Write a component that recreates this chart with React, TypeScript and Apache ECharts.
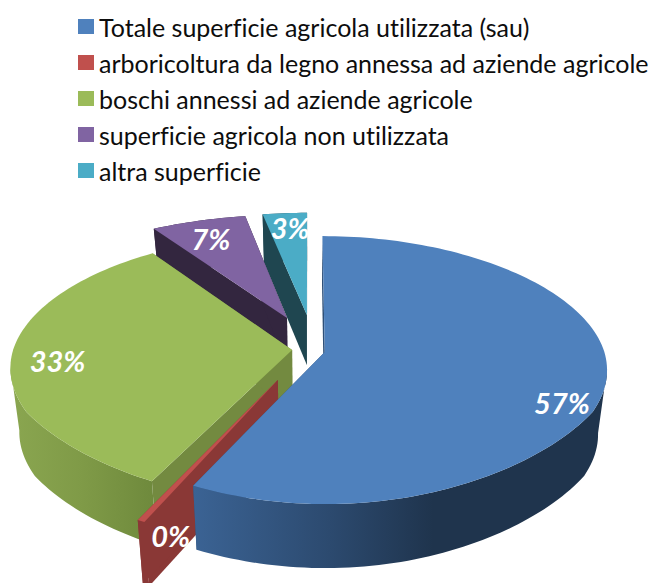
import React, { useEffect, useRef } from "react";
import * as echarts from "echarts";

const categories = [
  "Totale superficie agricola utilizzata (sau)",
  "arboricoltura da legno annessa ad aziende agricole",
  "boschi annessi ad aziende agricole",
  "superficie agricola non utilizzata",
  "altra superficie",
];
const shares = [57.4, 0.4, 32.5, 6.6, 3.1];
const percentLabels = ["57%", "0%", "33%", "7%", "3%"];

const topColors = ["#4f81bd", "#c0504d", "#9bbb59", "#8064a2", "#4bacc6"];
const wallStops: [number, string][][] = [
  [[0, "#3b6394"], [0.33, "#2c4a6f"], [0.58, "#1f344d"], [1, "#1f344d"]],
  [[0, "#8a3836"], [1, "#8a3836"]],
  [[0, "#8aa650"], [0.5, "#7f9a47"], [1, "#6e893c"]],
  [[0, "#33263f"], [1, "#33263f"]],
  [[0, "#1f4650"], [1, "#1f4650"]],
];
const radialWallColors = ["#2f5078", "#8a3836", "#738a40", "#33263f", "#1f4650"];
const sliceZ = [5, 4, 3, 2, 1];

// disc-space offset of every slice
const explodeU = [0.06, -0.105, -0.057, -0.078, -0.004];
const explodeV = [-0.015, -0.222, 0, 0.2526, 0.277];
// label position: radial fraction and angle offset from the slice bisector
const labelRadius = [0.885, 1.032, 0.835, 0.78, 0.81];
const labelAngleOffset = [11, -7, -2, -1.5, 0.5];

const CX = 308;
const CY = 350;
const RX = 279;
const RY = 131;
const PERSP = 0.135;
const TOP_SHRINK = 0.14;

function project(u: number, v: number): [number, number] {
  const s = v > 0 ? 1 - TOP_SHRINK * v : 1 + 0.06 * Math.min(1, -v / 0.45);
  const far = v > 1 ? 20 * (v - 1) : 0;
  return [CX + RX * u * s, CY - (RY * v) / (1 + PERSP * v) + far];
}
function depth(v: number) {
  return v < 0 ? 64 : Math.max(48, 64 - 50 * v);
}

const total = shares.reduce((a, b) => a + b, 0);
function sliceAngles(i: number): [number, number] {
  let acc = 0;
  for (let k = 0; k < i; k++) acc += shares[k];
  return [(acc / total) * 360, ((acc + shares[i]) / total) * 360];
}
function discPoint(i: number, deg: number, r = 1): [number, number] {
  const t = (deg * Math.PI) / 180;
  return [explodeU[i] + r * Math.sin(t), explodeV[i] + r * Math.cos(t)];
}

function renderSlice(i: number) {
  return (_params: any, api: any) => {
    const value = api.value(0);
    const [a0] = sliceAngles(i);
    const sweep = (value / total) * 360;
    const end = a0 + sweep;
    const top = (d: [number, number]) => project(d[0], d[1]);
    const low = (d: [number, number]) => {
      const p = project(d[0], d[1]);
      return [CX + (p[0] - CX) * 0.97, p[1] + depth(d[1])];
    };
    const steps = Math.max(2, Math.ceil(sweep / 1.5));
    const rim: [number, number][] = [];
    for (let k = 0; k <= steps; k++) rim.push(discPoint(i, a0 + ((end - a0) * k) / steps));
    const apex: [number, number] = [explodeU[i], explodeV[i]];
    const wall = (a: [number, number], b: [number, number], fill: string) => ({
      type: "polygon",
      shape: { points: [top(a), top(b), low(b), low(a)] },
      style: { fill },
    });
    // keep only the camera-facing stretch of the rim, between its horizontal extremes
    const xs = rim.map((d) => top(d)[0]);
    const argMax = xs.indexOf(Math.max(...xs));
    const argMin = xs.indexOf(Math.min(...xs));
    const from = argMax > 0 && argMax < rim.length - 1 ? argMax : 0;
    const to = argMin > 0 && argMin < rim.length - 1 ? argMin : rim.length - 1;
    const front = rim.slice(from, to + 1);
    const children: any[] = [
      wall(rim[0], apex, radialWallColors[i]),
      wall(rim[rim.length - 1], apex, radialWallColors[i]),
      {
        type: "polygon",
        shape: { points: [...front.map(top), ...front.slice().reverse().map(low)] },
        style: {
          fill: new echarts.graphic.LinearGradient(
            0, 0, 1, 0,
            wallStops[i].map(([offset, color]) => ({ offset, color }))
          ),
        },
      },
      {
        type: "polygon",
        shape: { points: [top(apex), ...rim.map(top)] },
        style: { fill: topColors[i] },
      },
    ];
    return { type: "group", children };
  };
}

function renderLabel(params: any, _api: any) {
  const i = params.dataIndex;
  const [a0, a1] = sliceAngles(i);
  const d = discPoint(i, (a0 + a1) / 2 + labelAngleOffset[i], labelRadius[i]);
  const p = project(d[0], d[1]);
  return {
    type: "text",
    style: {
      text: percentLabels[i],
      x: p[0],
      y: p[1],
      fill: "#ffffff",
      fontFamily: "Lato",
      fontWeight: "bold",
      fontStyle: "italic",
      fontSize: 29,
      align: "center",
      verticalAlign: "middle",
    },
  };
}

export default function App() {
  const ref = useRef<HTMLDivElement>(null);
  useEffect(() => {
    document.body.style.margin = "0";
    document.body.style.overflow = "hidden";
    const chart = echarts.init(ref.current!, undefined, { renderer: "svg" });
    chart.setOption({
      animation: false,
      backgroundColor: "#ffffff",
      legend: {
        orient: "vertical",
        left: 78,
        top: 14,
        itemWidth: 16,
        itemHeight: 15,
        itemGap: 11,
        itemStyle: { borderWidth: 0 },
        icon: "rect",
        data: categories,
        selectedMode: false,
        padding: 0,
        textStyle: { fontFamily: "Lato", fontSize: 25, color: "#0d0d0d" },
      },
      series: [
        ...categories.map((name, i) => ({
          type: "custom",
          name,
          coordinateSystem: "none",
          clip: false,
          z: sliceZ[i],
          color: topColors[i],
          itemStyle: { color: topColors[i] },
          data: [[shares[i]]],
          renderItem: renderSlice(i),
          silent: true,
        })),
        {
          type: "custom",
          name: "etichette",
          coordinateSystem: "none",
          z: 10,
          data: shares.map((s) => [s]),
          renderItem: renderLabel,
          silent: true,
        },
      ],
    });
    return () => chart.dispose();
  }, []);
  return (
    <>
      <style>{"svg text{font-variant-ligatures:none;font-feature-settings:'liga' 0}"}</style>
      <div
        ref={ref}
        style={{ position: "absolute", left: 0, top: 0, width: 651, height: 583, overflow: "hidden" }}
      />
    </>
  );
}
